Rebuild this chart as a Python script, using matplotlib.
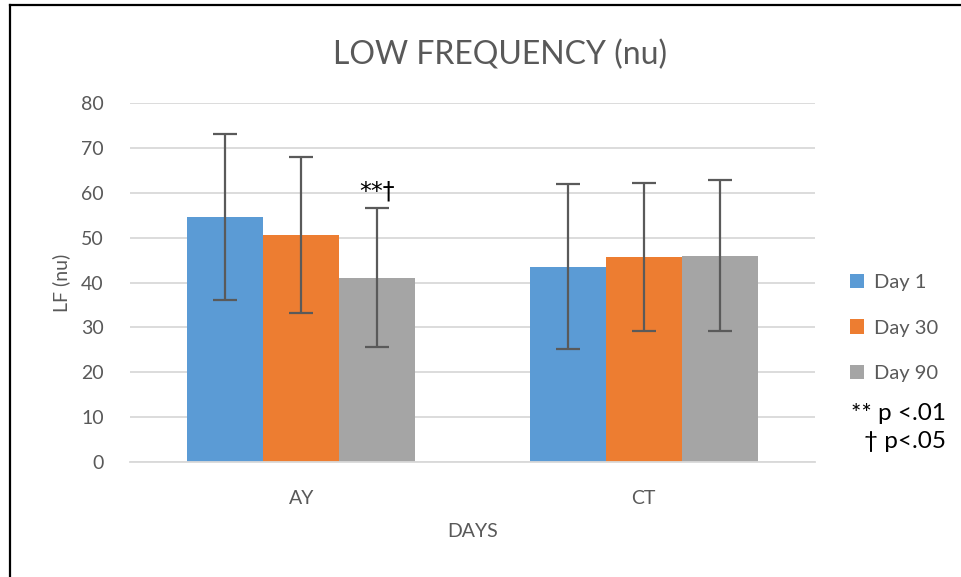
import numpy as np
import matplotlib
matplotlib.use("Agg")
import matplotlib.pyplot as plt
from matplotlib.lines import Line2D
from matplotlib.patches import Patch

plt.rcParams['font.family'] = ['Lato', 'DejaVu Sans']

groups = ["AY", "CT"]
series = ["Day 1", "Day 30", "Day 90"]
means = {
    "Day 1": [54.7, 43.5],
    "Day 30": [50.6, 45.7],
    "Day 90": [41.1, 46.0],
}
errors = {
    "Day 1": [18.5, 18.4],
    "Day 30": [17.3, 16.5],
    "Day 90": [15.5, 16.9],
}
colors = ["#5B9BD5", "#ED7D31", "#A5A5A5"]
text_grey = "#595959"

fig = plt.figure(figsize=(9.62, 5.77), dpi=100)
ax = fig.add_axes([130 / 962, 1 - 462 / 577, 685 / 962, 359 / 577])

x = np.arange(len(groups))
width = 0.222
for i, (name, col) in enumerate(zip(series, colors)):
    pos = x + (i - 1) * width
    ax.bar(pos, means[name], width, color=col, zorder=2)
    ax.errorbar(pos, means[name], yerr=errors[name], fmt='none',
                ecolor="#5a5a5a", elinewidth=1.6, capsize=8.5, capthick=1.6, zorder=3)

# significance mark over AY day 90
ay90_top = means["Day 90"][0] + errors["Day 90"][0]
ax.annotate("**†", (x[0] + width, ay90_top), xytext=(0, 3), textcoords='offset points',
            ha='center', va='bottom', fontsize=17, color='black', family='DejaVu Sans')

ax.set_xlim(-0.5, 1.5)
ax.set_ylim(0, 80)
ax.set_yticks(range(0, 81, 10))
ax.set_xticks(x)
ax.set_xticklabels(groups)
ax.yaxis.grid(True, color="#d9d9d9", linewidth=1.3, zorder=0)
ax.set_axisbelow(True)
for s in ["top", "right", "left"]:
    ax.spines[s].set_visible(False)
ax.spines["bottom"].set_color("#d9d9d9")
ax.spines["bottom"].set_linewidth(1.3)
ax.tick_params(axis='both', length=0, labelsize=14, labelcolor=text_grey)
ax.tick_params(axis='y', pad=19)
ax.tick_params(axis='x', pad=20)

# chart title centred on the whole figure
fig.text(500 / 962, 1 - 55 / 577, "LOW FREQUENCY (nu)", ha='center', va='center',
         fontsize=23, color=text_grey)
ax.set_xlabel("DAYS", fontsize=14, color=text_grey, labelpad=12)
ax.set_ylabel("LF (nu)", fontsize=14, color=text_grey, labelpad=8)

handles = [Patch(facecolor=c) for c in colors]
leg = fig.legend(handles, series, loc='center left', bbox_to_anchor=(832 / 962, 1 - 328 / 577),
                 frameon=False, fontsize=14.5, handlelength=0.7, handleheight=0.7,
                 handletextpad=0.5, labelspacing=1.4)
for t in leg.get_texts():
    t.set_color(text_grey)

fig.text(946 / 962, 1 - 413 / 577, "** p <.01", ha='right', va='center', fontsize=17.5, color='black')
fig.text(946 / 962, 1 - 442 / 577, "† p<.05", ha='right', va='center', fontsize=17.5, color='black')

# frame lines along the top and left edges
fig.add_artist(Line2D([10 / 962, 1], [1 - 4.5 / 577] * 2, color='black', linewidth=1.6,
                      transform=fig.transFigure))
fig.add_artist(Line2D([10 / 962] * 2, [0, 1 - 4.5 / 577], color='black', linewidth=1.6,
                      transform=fig.transFigure))

fig.savefig("out.png", dpi=100)
